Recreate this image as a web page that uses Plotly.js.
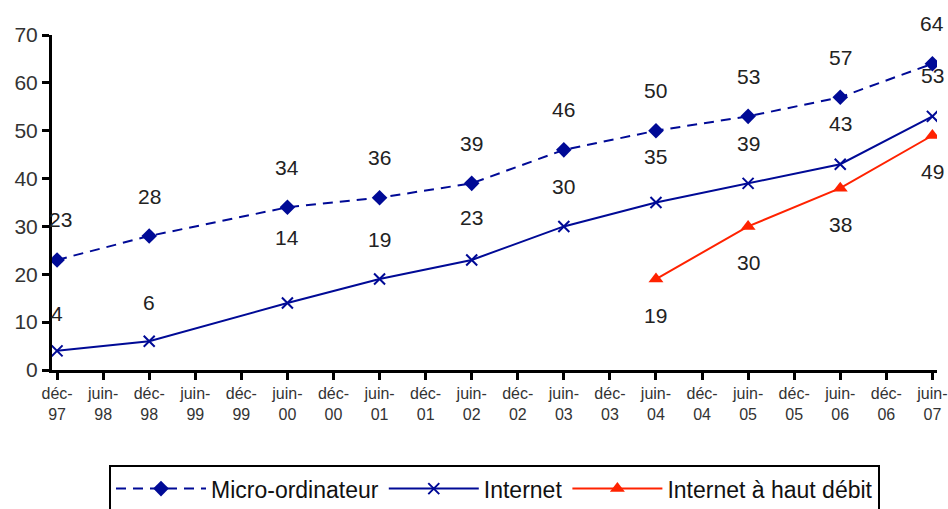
<!DOCTYPE html>
<html>
<head>
<meta charset="utf-8">
<script src="https://cdn.plot.ly/plotly-3.0.1.min.js"></script>
<style>html,body{margin:0;padding:0;background:#fff;}#chart{width:948px;height:509px;}</style>
</head>
<body>
<div id="chart"></div>
<script>
// Categories (semesters)
const categories = ["déc-97","juin-98","déc-98","juin-99","déc-99","juin-00","déc-00","juin-01","déc-01","juin-02","déc-02","juin-03","déc-03","juin-04","déc-04","juin-05","déc-05","juin-06","déc-06","juin-07"];
const tickLabels = ["déc-<br>97","juin-<br>98","déc-<br>98","juin-<br>99","déc-<br>99","juin-<br>00","déc-<br>00","juin-<br>01","déc-<br>01","juin-<br>02","déc-<br>02","juin-<br>03","déc-<br>03","juin-<br>04","déc-<br>04","juin-<br>05","déc-<br>05","juin-<br>06","déc-<br>06","juin-<br>07"];

// Survey dates
const surveyDates = ["déc-97","déc-98","juin-00","juin-01","juin-02","juin-03","juin-04","juin-05","juin-06","juin-07"];
const microValues = [23, 28, 34, 36, 39, 46, 50, 53, 57, 64];
const internetValues = [4, 6, 14, 19, 23, 30, 35, 39, 43, 53];

const hautDebitDates = ["juin-04","juin-05","juin-06","juin-07"];
const hautDebitValues = [19, 30, 38, 49];

// label offsets (styling, px)
const internetLabelShift = [37, 39, 66, 40, 42, 40, 46, 40, 41, 41];

const idx = d => categories.indexOf(d);
const NAVY = "#000a96";
const RED = "#ff2200";

const traces = [
  {
    name: "Micro-ordinateur", x: surveyDates.map(idx), y: microValues,
    type: "scatter", mode: "lines+markers",
    line: {color: NAVY, width: 2, dash: "10px,7px"},
    marker: {symbol: "diamond", size: 12, color: NAVY}
  },
  {
    name: "Internet", x: surveyDates.map(idx), y: internetValues,
    type: "scatter", mode: "lines+markers",
    line: {color: NAVY, width: 2},
    marker: {symbol: "x-thin-open", size: 11, color: NAVY, line: {color: NAVY, width: 2}}
  },
  {
    name: "Internet à haut débit", x: hautDebitDates.map(idx), y: hautDebitValues,
    type: "scatter", mode: "lines+markers",
    line: {color: RED, width: 2},
    marker: {symbol: "triangle-up", size: 13, color: RED}
  }
];

const annotations = [];
const lblFont = {family: "Liberation Sans, Arial, sans-serif", size: 21, color: "#222"};
surveyDates.forEach((d, i) => {
  annotations.push({x: idx(d), y: microValues[i], text: String(microValues[i]), showarrow: false,
    yshift: 40, xshift: i === 0 ? 3 : 0, font: lblFont});
  annotations.push({x: idx(d), y: internetValues[i], text: String(internetValues[i]), showarrow: false,
    yshift: internetLabelShift[i], font: lblFont});
});
hautDebitDates.forEach((d, i) => {
  annotations.push({x: idx(d), y: hautDebitValues[i], text: String(hautDebitValues[i]), showarrow: false,
    yshift: -36, font: lblFont});
});

const layout = {
  width: 948, height: 509,
  margin: {l: 52, r: 11, t: 35, b: 139, autoexpand: false},
  paper_bgcolor: "#fff", plot_bgcolor: "#fff",
  showlegend: true,
  font: {family: "Liberation Sans, Arial, sans-serif", color: "#222"},
  xaxis: {
    type: "linear", range: [-0.11, 19.1],
    tickmode: "array", tickvals: categories.map((c, i) => i), ticktext: tickLabels,
    showgrid: false, zeroline: false,
    showline: true, linecolor: "#000", linewidth: 3,
    ticks: "outside", ticklen: 7, tickwidth: 3, tickcolor: "#000",
    tickfont: {size: 16, color: "#333"}, tickangle: 0
  },
  yaxis: {
    range: [0, 70], tickvals: [0,10,20,30,40,50,60,70],
    showgrid: false, zeroline: false,
    showline: true, linecolor: "#000", linewidth: 3,
    ticks: "outside", ticklen: 7, tickwidth: 3, tickcolor: "#000",
    tickfont: {size: 21, color: "#333"}
  },
  legend: {
    orientation: "h", x: 0.5, xanchor: "center", y: -0.284, yanchor: "top",
    bordercolor: "#000", borderwidth: 2, bgcolor: "#fff",
    font: {size: 23, color: "#111"}, itemwidth: 90, tracegroupgap: 0
  },
  annotations: annotations
};

Plotly.newPlot("chart", traces, layout, {displayModeBar: false, staticPlot: true});
</script>
</body>
</html>
